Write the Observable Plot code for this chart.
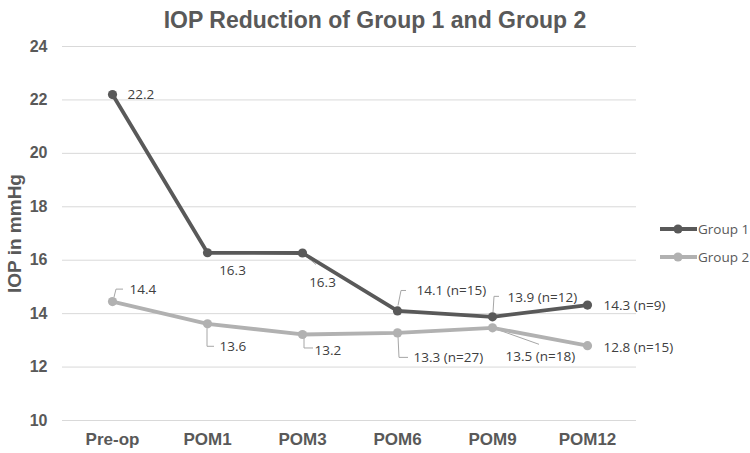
<!DOCTYPE html>
<html>
<head>
<meta charset="utf-8">
<script src="https://cdn.jsdelivr.net/npm/d3@7"></script>
<script src="https://cdn.jsdelivr.net/npm/@observablehq/plot@0.6"></script>
<style>
  html, body { margin: 0; padding: 0; background: #fff; }
  #wrap { position: relative; width: 750px; height: 453px; overflow: hidden; }
  #title { position: absolute; left: 0; top: 7px; width: 750px; text-align: center;
           font: bold 23px "Liberation Sans", Arial, sans-serif; color: #595959; }
  .leg { position: absolute; left: 660px; height: 16px; display: flex; align-items: center;
         font: 13.5px "Open Sans", sans-serif; color: #595959; }
  .leg svg { display: block; }
</style>
</head>
<body>
<div id="wrap">
  <div id="chart"></div>
  <div id="title"></div>
  <div id="legend"></div>
</div>
<script>
// ---------------- data ----------------
const title = "IOP Reduction of Group 1 and Group 2";
const yTitle = "IOP in mmHg";
const categories = ["Pre-op", "POM1", "POM3", "POM6", "POM9", "POM12"];
const seriesNames = ["Group 1", "Group 2"];
const group1 = [22.2, 16.28, 16.27, 14.1, 13.88, 14.32];
const group2 = [14.45, 13.62, 13.22, 13.28, 13.47, 12.8];
const group1Labels = ["22.2", "16.3", "16.3", "14.1 (n=15)", "13.9 (n=12)", "14.3 (n=9)"];
const group2Labels = ["14.4", "13.6", "13.2", "13.3 (n=27)", "13.5 (n=18)", "12.8 (n=15)"];
const yTicks = [10, 12, 14, 16, 18, 20, 22, 24];

// ---------------- styling / label layout (pixels) ----------------
const colors = ["#595959", "#b1b1b1"];
const labelOffsets = [
  [[15, 0, "start"], [25, 18, "middle"], [20, 30, "middle"], [19, -20, "start"], [15, -19, "start"], [16, 1, "start"]],
  [[17, -12, "start"], [12, 23, "start"], [12, 16, "start"], [16, 25, "start"], [13, 29, "start"], [16, 2, "start"]]
];
const leaders = [
  {s: 1, i: 0, pts: [[2, -4], [4, -12], [11, -12]]},
  {s: 1, i: 1, pts: [[0, 5], [0, 23], [7, 23]]},
  {s: 1, i: 2, pts: [[2, 3], [2, 14], [11, 14]]},
  {s: 0, i: 2, pts: [[2, 2], [14, 12]]},
  {s: 0, i: 3, pts: [[1, -5], [4, -20], [9, -20]]},
  {s: 0, i: 4, pts: [[1, -4], [2, -20], [7, -20]]},
  {s: 1, i: 3, pts: [[1, 4], [2, 25], [11, 25]]},
  {s: 1, i: 4, pts: [[2, 1], [47, 17]]}
];

// ---------------- build table ----------------
const values = [group1, group2];
const labels = [group1Labels, group2Labels];
const rows = [];
seriesNames.forEach((s, si) => categories.forEach((c, i) =>
  rows.push({series: s, si, i, cat: c, value: values[si][i], label: labels[si][i]})));

const labelFont = "'Open Sans', sans-serif";

const marks = [
  Plot.gridY(yTicks, {stroke: "#d9d9d9", strokeOpacity: 1, strokeWidth: 1}),
  Plot.axisY(yTicks, {tickSize: 0, tickPadding: 15, fontSize: 16, fontWeight: "bold", fill: "#595959", label: null}),
  Plot.axisX({tickSize: 0, tickPadding: 12, fontSize: 17, fontWeight: "bold", fill: "#595959", label: null}),
  Plot.text([yTitle], {frameAnchor: "left", text: d => d, rotate: -90, dx: -48, textAnchor: "middle",
    fontSize: 19, fontWeight: "bold", fill: "#595959", fontFamily: "'Liberation Sans', Arial, sans-serif"}),
  // leader lines
  (index, scales) => {
    const g = d3.create("svg:g");
    const x = scales.x, y = scales.y;
    for (const L of leaders) {
      const px = x(categories[L.i]), py = y(values[L.s][L.i]);
      const d = L.pts.map((p, k) => (k ? "L" : "M") + (px + p[0]) + "," + (py + p[1])).join("");
      g.append("path").attr("d", d).attr("fill", "none").attr("stroke", "#a6a6a6").attr("stroke-width", 1);
    }
    return g.node();
  }
];

// series lines and dots (Group 2 under Group 1)
[1, 0].forEach(si => {
  const data = rows.filter(r => r.si === si);
  marks.push(Plot.line(data, {x: "cat", y: "value", stroke: colors[si], strokeWidth: 3.8, curve: "linear"}));
  marks.push(Plot.dot(data, {x: "cat", y: "value", r: 4.6, fill: colors[si], stroke: "none"}));
});

// data labels
rows.forEach(r => {
  const [dx, dy, anchor] = labelOffsets[r.si][r.i];
  marks.push(Plot.text([r], {x: "cat", y: "value", text: "label", dx, dy, textAnchor: anchor,
    fontSize: 13.5, fontFamily: labelFont, fill: "#404040"}));
});

const chart = Plot.plot({
  width: 750,
  height: 453,
  marginTop: 46,
  marginBottom: 33,
  marginLeft: 62,
  marginRight: 114,
  style: {fontFamily: "'Liberation Sans', Arial, sans-serif", color: "#595959", background: "#fff"},
  x: {type: "point", domain: categories, padding: 0.5, label: null, axis: null},
  y: {domain: [10, 24], label: null, axis: null},
  marks
});
document.getElementById("chart").appendChild(chart);
document.getElementById("title").textContent = title;

// legend
const legend = document.getElementById("legend");
const legendY = [229, 257];
seriesNames.forEach((s, si) => {
  const row = document.createElement("div");
  row.className = "leg";
  row.style.top = (legendY[si] - 8) + "px";
  row.innerHTML = `<svg width="37" height="16"><line x1="0" x2="37" y1="8" y2="8" stroke="${colors[si]}" stroke-width="3.8"/><circle cx="18" cy="8" r="4.6" fill="${colors[si]}"/></svg><span style="margin-left:1px">${s}</span>`;
  legend.appendChild(row);
});
</script>
</body>
</html>
